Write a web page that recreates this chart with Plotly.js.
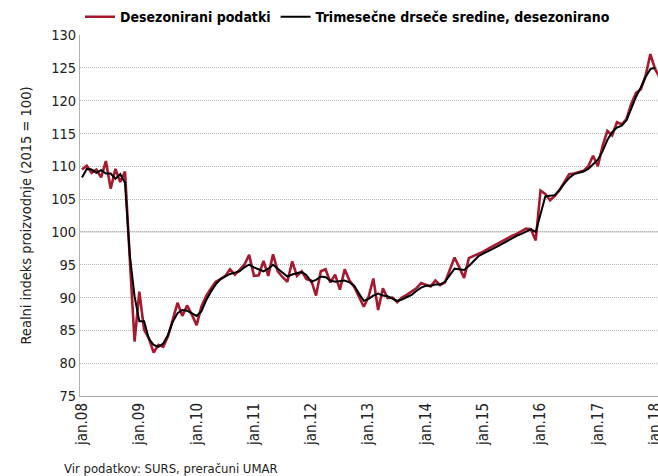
<!DOCTYPE html>
<html>
<head>
<meta charset="utf-8">
<script src="https://cdn.plot.ly/plotly-3.0.1.min.js"></script>
<style>html,body{margin:0;padding:0;background:#fff;}#chart{width:658px;height:476px;}</style>
</head>
<body>
<div id="chart"></div>
<script>
// Month index 0 = jan.08
const tickLabels = ["jan.08","jan.09","jan.10","jan.11","jan.12","jan.13","jan.14","jan.15","jan.16","jan.17","jan.18"];
const tickMonths = [0,12,24,36,48,60,72,84,96,108,120];

// Desezonirani podatki (jan.08 – feb.18)
const red2008 = [109.5,110.1,109.0,109.5,108.3,110.8,106.6,109.6,107.6,109.2,96.0,83.3];
const red2009 = [90.9,85.1,83.8,81.6,82.8,82.5,84.1,86.6,89.2,87.2,88.8,87.4];
const red2010 = [85.8,88.6,90.2,91.4,92.4,92.8,93.3,94.3,93.5,94.2,95.0,96.5];
const red2011 = [93.3,93.4,95.6,93.3,96.6,94.0,93.1,92.4,95.5,93.3,94.0,92.8];
const red2012 = [92.6,90.3,94.0,94.3,92.3,93.5,91.2,94.3,92.6,91.6,90.1,88.6];
const red2013 = [90.1,92.9,88.1,91.4,89.9,90.0,89.3,90.0,90.4,90.9,91.4,92.2];
const red2014 = [92.0,91.7,92.6,91.9,92.3,94.1,96.1,94.6,93.0,96.0,96.3,96.7];
const red2015 = [97.0,97.4,97.8,98.2,98.7,99.1,99.4,99.7,100.1,100.5,100.4,98.7];
const red2016 = [106.3,105.8,104.8,105.5,106.4,107.5,108.8,108.9,109.1,109.3,110.0,111.6];
const red2017 = [110.0,113.1,115.4,114.7,116.7,116.4,117.2,119.5,121.2,121.7,123.8,127.1];
const red2018 = [124.8,123.5];

// Trimesečne drseče sredine, desezonirano (jan.08 – jan.18)
const blk2008 = [108.3,109.6,109.5,109.0,109.4,108.9,108.9,108.1,108.8,107.5,96.5,90.2];
const blk2009 = [86.4,86.4,83.7,82.8,82.5,83.0,84.3,86.3,87.6,88.1,88.0,87.6];
const blk2010 = [87.2,87.9,89.6,90.9,92.0,92.8,93.2,93.6,93.8,94.0,94.6,95.0];
const blk2011 = [94.6,94.3,94.0,94.4,95.0,94.4,93.8,93.2,93.5,93.7,93.9,93.4];
const blk2012 = [92.4,92.7,93.2,93.1,92.6,92.4,92.5,92.6,92.3,91.8,90.6,89.5];
const blk2013 = [89.8,90.3,90.6,90.3,90.2,89.8,89.5,89.7,90.0,90.4,91.0,91.5];
const blk2014 = [91.8,91.8,92.0,92.0,92.4,93.4,94.4,94.3,94.2,94.8,95.6,96.3];
const blk2015 = [96.7,97.0,97.4,97.8,98.2,98.7,99.1,99.4,99.7,100.1,100.4,100.0];
const blk2016 = [102.5,105.4,105.5,105.6,106.4,107.4,108.2,108.8,109.0,109.2,109.6,110.3];
const blk2017 = [111.0,112.3,114.0,115.2,115.9,116.2,117.0,118.8,120.6,122.0,123.6,124.8];
const blk2018 = [125.0];

const redVals = [].concat(red2008,red2009,red2010,red2011,red2012,red2013,red2014,red2015,red2016,red2017,red2018);
const blkVals = [].concat(blk2008,blk2009,blk2010,blk2011,blk2012,blk2013,blk2014,blk2015,blk2016,blk2017,blk2018);
const redX = redVals.map((_, i) => i);
const blkX = blkVals.map((_, i) => i);

const FONT = "'DejaVu Sans Condensed', 'Liberation Sans Narrow', sans-serif";

const traces = [
  {x: redX, y: redVals, type: 'scatter', mode: 'lines', name: 'Desezonirani podatki',
   line: {color: '#a6192e', width: 2.6}, hoverinfo: 'skip'},
  {x: blkX, y: blkVals, type: 'scatter', mode: 'lines', name: 'Trimesečne drseče sredine, desezonirano',
   line: {color: '#000000', width: 2}, hoverinfo: 'skip'}
];

const layout = {
  width: 658, height: 476,
  margin: {l: 80, r: 0, t: 35, b: 80},
  paper_bgcolor: '#ffffff', plot_bgcolor: '#ffffff',
  font: {family: FONT, size: 14, color: '#222222'},
  showlegend: true,
  legend: {orientation: 'h', x: 0.0, xanchor: 'left', y: 1.005, yanchor: 'bottom',
           font: {family: FONT, size: 14, color: '#000', weight: 'bold'},
           bgcolor: 'rgba(0,0,0,0)', tracegroupgap: 0},
  xaxis: {range: [-0.42, 120.6], showgrid: false, zeroline: false,
          showline: true, linecolor: '#b0b0b0', linewidth: 1,
          ticks: '', tickvals: tickMonths, ticktext: tickLabels, tickangle: -90,
          ticklabeloverflow: 'allow',
          tickfont: {family: FONT, size: 15, color: '#222'}, fixedrange: true},
  yaxis: {range: [75, 130], dtick: 5, tick0: 75, showgrid: true, gridcolor: '#b4b4b4',
          griddash: '1px,1px', gridwidth: 1, zeroline: false,
          showline: true, linecolor: '#b0b0b0', linewidth: 1, ticks: '',
          tickfont: {family: FONT, size: 14.5, color: '#222'},
          title: {text: 'Realni indeks proizvodnje (2015 = 100)', font: {family: FONT, size: 14.5, color: '#222'}, standoff: 16},
          fixedrange: true},
  shapes: [
    {type: 'line', xref: 'paper', x0: 0, x1: 1, yref: 'y', y0: 100, y1: 100,
     line: {color: '#c0c0c0', width: 1}, layer: 'below'}
  ],
  annotations: [
    {text: 'Vir podatkov: SURS, preračuni UMAR', xref: 'paper', yref: 'paper',
     x: -0.031, y: -0.2, xanchor: 'left', yanchor: 'middle', showarrow: false,
     font: {family: FONT, size: 13, color: '#222'}}
  ]
};

Plotly.newPlot('chart', traces, layout, {staticPlot: true, displayModeBar: false});
</script>
</body>
</html>
